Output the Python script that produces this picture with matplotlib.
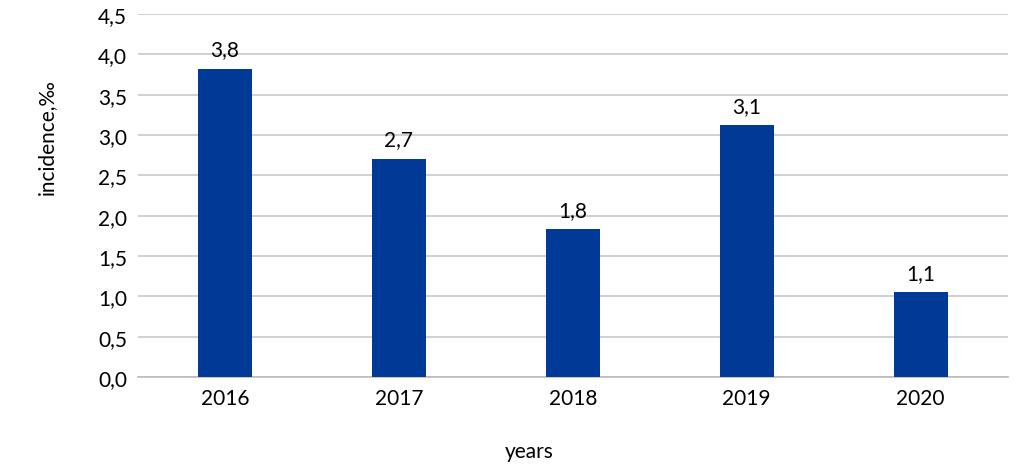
import matplotlib.pyplot as plt

# data
years = ['2016', '2017', '2018', '2019', '2020']
incidence = [3.82, 2.70, 1.83, 3.12, 1.05]
labels = ['3,8', '2,7', '1,8', '3,1', '1,1']
yticks = [0, 0.5, 1, 1.5, 2, 2.5, 3, 3.5, 4, 4.5]

plt.rcParams['font.family'] = ['Lato', 'DejaVu Sans']

fig = plt.figure(figsize=(10.24, 4.77), dpi=100)
ax = fig.add_axes([0.1348, 0.2075, 0.8492, 0.7611])

x = range(len(years))
ax.bar(x, incidence, width=0.31, color='#003a96', zorder=3)
for i, v in enumerate(incidence):
    ax.text(i, v + 0.12, labels[i], ha='center', va='bottom', fontsize=15)

ax.set_xlim(-0.5, 4.5)
ax.set_ylim(0, 4.5)
ax.set_xticks(list(x))
ax.set_xticklabels(years, fontsize=15)
ax.set_yticks(yticks)
ax.set_yticklabels([f'{t:.1f}'.replace('.', ',') for t in yticks], fontsize=15)
ax.tick_params(length=0, pad=8)
ax.grid(True, axis='y', color='#c8c8c8', linewidth=1.2, zorder=0)
for s in ['top', 'right', 'left']:
    ax.spines[s].set_visible(False)
ax.spines['bottom'].set_color('#bbbbbb')
ax.spines['bottom'].set_linewidth(1.2)

# axis titles placed where they sit in the original
fig.text(529 / 1024, 1 - 452 / 477, 'years', ha='center', va='center', fontsize=15)
fig.text(47 / 1024, 1 - 137 / 477, 'incidence,‰', ha='center', va='center',
         rotation=90, fontsize=15)

fig.savefig('out.png', dpi=100)
